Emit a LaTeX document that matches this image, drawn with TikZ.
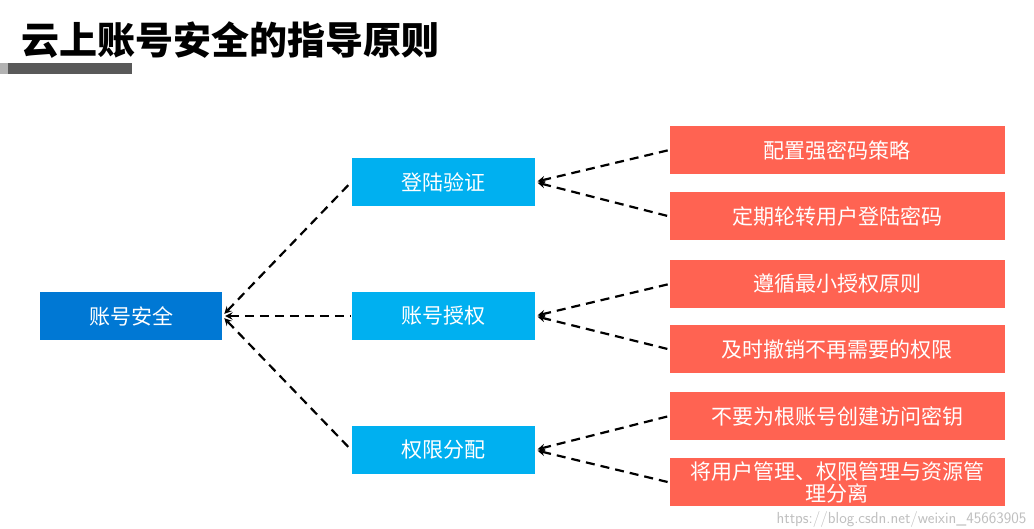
\documentclass[tikz,border=0pt]{standalone}
\usepackage{fontspec}
\setmainfont{Noto Sans CJK SC}
\usetikzlibrary{positioning}
\definecolor{rootblue}{RGB}{0,120,212}
\definecolor{midblue}{RGB}{0,176,240}
\definecolor{leafred}{RGB}{255,99,82}
\tikzset{
semithick,
>=stealth,
my node/.style={minimum height=48pt,inner sep=0pt,text=white,font=\fontsize{21}{24}\selectfont},
root/.style={my node,fill=rootblue,minimum width=182pt},
mid/.style={my node,fill=midblue,minimum width=183pt},
leaf/.style={my node,fill=leafred,minimum width=335pt,align=center},
link/.style={line width=2.2pt,dash pattern=on 9pt off 6pt,<-,shorten <=3pt}
}
\begin{document}
\begin{tikzpicture}[x=1pt,y=-1pt]
\useasboundingbox (0,0) rectangle (1034,528);
% title
\node[anchor=west,font=\fontsize{38}{38}\selectfont\bfseries] (title) at (18,40) {云上账号安全的指导原则};
\fill[black!65] (8,63) rectangle (132,74);
\fill[black!30] (0,63) rectangle (8,74);
% nodes
\node[root] (acc) at (131,316) {账号安全};
\node[mid] (login) at (443,182) {登陆验证};
\node[mid] (auth) at (443,316) {账号授权};
\node[mid] (perm) at (443,450) {权限分配};
\node[leaf] (l1) at (837,150) {配置强密码策略};
\node[leaf,below=18pt of l1] (l2) {定期轮转用户登陆密码};
\node[leaf] (l3) at (837,284) {遵循最小授权原则};
\node[leaf,below=17pt of l3] (l4) {及时撤销不再需要的权限};
\node[leaf] (l5) at (837,416) {不要为根账号创建访问密钥};
\node[leaf,below=18pt of l5,font=\fontsize{21}{22}\selectfont] (l6) {将用户管理、权限管理与资源管\\理分离};
% connectors
\draw[link] (acc.east) -- (login.west);
\draw[link] (acc.east) -- (auth.west);
\draw[link] (acc.east) -- (perm.west);
\foreach \m/\a/\b in {login/l1/l2,auth/l3/l4,perm/l5/l6}{
  \draw[link] (\m.east) -- (\a.west);
  \draw[link] (\m.east) -- (\b.west);
}
\node[anchor=east,text=black!25,font=\fontsize{16}{16}\selectfont\sffamily] (mark) at (1030,519) {https://blog.csdn.net/weixin\_45663905};
\end{tikzpicture}
\end{document}
